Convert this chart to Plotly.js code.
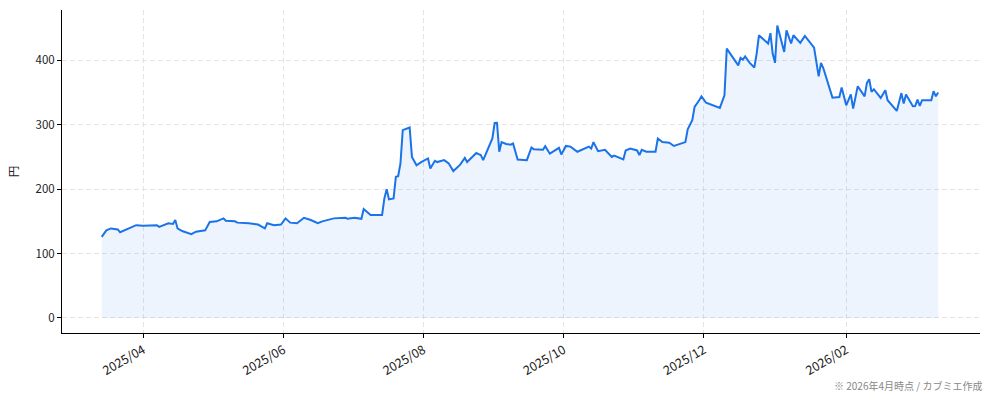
<!DOCTYPE html>
<html>
<head>
<meta charset="utf-8">
<script src="https://cdn.plot.ly/plotly-3.0.1.min.js"></script>
<style>
  html, body { margin: 0; padding: 0; background: #fff; }
  #chart { width: 994px; height: 401px; }
</style>
</head>
<body>
<div id="chart"></div>
<script>
// daily close (円)
const dates = [
  '2025-03-14', '2025-03-16', '2025-03-18', '2025-03-21', '2025-03-22', '2025-03-24', '2025-03-26', '2025-03-29',
  '2025-04-01', '2025-04-07', '2025-04-08', '2025-04-12', '2025-04-14', '2025-04-15', '2025-04-16', '2025-04-18',
  '2025-04-22', '2025-04-24', '2025-04-28', '2025-04-30',
  '2025-05-03', '2025-05-06', '2025-05-07', '2025-05-11', '2025-05-12', '2025-05-17', '2025-05-21', '2025-05-24',
  '2025-05-25', '2025-05-28', '2025-05-31',
  '2025-06-02', '2025-06-04', '2025-06-07', '2025-06-10', '2025-06-13', '2025-06-16', '2025-06-18', '2025-06-23',
  '2025-06-28', '2025-06-29',
  '2025-07-02', '2025-07-05', '2025-07-06', '2025-07-09', '2025-07-14', '2025-07-15', '2025-07-16', '2025-07-17',
  '2025-07-19', '2025-07-20', '2025-07-21', '2025-07-22', '2025-07-23', '2025-07-26', '2025-07-27', '2025-07-29',
  '2025-07-31',
  '2025-08-03', '2025-08-04', '2025-08-06', '2025-08-07', '2025-08-10', '2025-08-12', '2025-08-14', '2025-08-17',
  '2025-08-19', '2025-08-20', '2025-08-24', '2025-08-26', '2025-08-27', '2025-08-31',
  '2025-09-01', '2025-09-02', '2025-09-03', '2025-09-04', '2025-09-06', '2025-09-08', '2025-09-09', '2025-09-11',
  '2025-09-15', '2025-09-17', '2025-09-18', '2025-09-21', '2025-09-22', '2025-09-23', '2025-09-25', '2025-09-29',
  '2025-09-30',
  '2025-10-02', '2025-10-04', '2025-10-07', '2025-10-10', '2025-10-12', '2025-10-13', '2025-10-14', '2025-10-16',
  '2025-10-19', '2025-10-22', '2025-10-23', '2025-10-27', '2025-10-28', '2025-10-30',
  '2025-11-02', '2025-11-03', '2025-11-04', '2025-11-06', '2025-11-10', '2025-11-11', '2025-11-13', '2025-11-16',
  '2025-11-18', '2025-11-23', '2025-11-24', '2025-11-26', '2025-11-27', '2025-11-29', '2025-11-30',
  '2025-12-02', '2025-12-08', '2025-12-10', '2025-12-11', '2025-12-16', '2025-12-17', '2025-12-18', '2025-12-19',
  '2025-12-21', '2025-12-23', '2025-12-24', '2025-12-25', '2025-12-29', '2025-12-30', '2025-12-31',
  '2026-01-01', '2026-01-02', '2026-01-05', '2026-01-06', '2026-01-08', '2026-01-09', '2026-01-12', '2026-01-14',
  '2026-01-18', '2026-01-20', '2026-01-21', '2026-01-22', '2026-01-26', '2026-01-29', '2026-01-30',
  '2026-02-01', '2026-02-03', '2026-02-04', '2026-02-06', '2026-02-09', '2026-02-10', '2026-02-11', '2026-02-12',
  '2026-02-13', '2026-02-16', '2026-02-18', '2026-02-19', '2026-02-23', '2026-02-25', '2026-02-26', '2026-02-27',
  '2026-03-02', '2026-03-03', '2026-03-04', '2026-03-05', '2026-03-06', '2026-03-10', '2026-03-11', '2026-03-12',
  '2026-03-13'
]

const prices = [
  126, 136, 139, 137.5, 133, 136, 139, 144,
  143, 144, 141.5, 147, 146, 152, 139, 135,
  130, 134, 136, 149,
  150, 154.6, 151, 150, 148, 147, 145, 139,
  147, 144, 145,
  154.6, 148, 147, 155.5, 152, 147, 150, 154.6,
  155.5, 154,
  155.5, 154, 169, 159.7, 160, 185.6, 200, 184,
  185.6, 219, 220, 240, 291.5, 295.6, 250, 237,
  242,
  247.6, 232, 244, 242, 245, 240, 228, 238,
  248.5, 242, 256, 252.7, 245, 278.6,
  302.8, 303, 258, 273, 270, 269, 271, 246,
  245, 264.6, 262, 262, 261, 266.7, 255, 264,
  253.7,
  267, 266, 258, 263, 266, 263, 273, 259,
  261, 250, 252, 246, 260, 263,
  260, 252.7, 261, 258, 258, 278.6, 273, 272,
  267, 273, 293, 307, 327.6, 338, 344,
  334, 326, 345.7, 418, 392, 403.6, 401, 406,
  396, 388.7, 410, 438.8, 426, 442, 410,
  396, 454, 413, 446.5, 426, 438.8, 427, 437.7,
  419.7, 375, 396, 388, 342, 343, 357.7,
  330, 347, 325, 359.7, 344, 364.8, 370.5, 351,
  355, 341.6, 353.5, 338, 321.4, 349, 333, 347,
  328.7, 329, 339, 329, 338, 338, 352, 344,
  350
]

const yTicks = [0, 100, 200, 300, 400]
const yTitle = '円'
const footnote = '※ 2026年4月時点 / カブミエ作成'

const lineColor = '#1a73e8'
const gridColor = '#e4e4e4'
const font = '"Noto Sans CJK JP", "Noto Sans", sans-serif'

Plotly.newPlot('chart', [
  {
    type: 'scatter',
    mode: 'lines',
    x: dates,
    y: prices,
    fill: 'tozeroy',
    fillcolor: 'rgba(26, 115, 232, 0.08)',
    line: { color: lineColor, width: 2 },
    hoverinfo: 'x+y'
  }
], {
  width: 994,
  height: 401,
  margin: { l: 62, r: 14, t: 10, b: 68 },
  paper_bgcolor: '#fff',
  plot_bgcolor: '#fff',
  showlegend: false,
  font: { family: font, size: 11, color: '#222' },
  xaxis: {
    type: 'date',
    range: ['2025-02-24 17:00', '2026-03-31 05:00'],
    tick0: '2025-04-01',
    dtick: 'M2',
    tickformat: '%Y/%m',
    tickangle: -30,
    ticks: 'outside',
    ticklen: 4,
    tickcolor: '#000',
    showline: true,
    linecolor: '#000',
    linewidth: 1,
    showgrid: true,
    gridcolor: gridColor,
    griddash: '5px,3px',
    gridwidth: 1,
    zeroline: false,
    tickfont: { family: font, size: 12.5, color: '#222' }
  },
  yaxis: {
    range: [-23.3, 478],
    tickvals: yTicks,
    ticks: 'outside',
    ticklen: 4,
    tickcolor: '#000',
    showline: true,
    linecolor: '#000',
    linewidth: 1,
    showgrid: true,
    gridcolor: gridColor,
    griddash: '5px,3px',
    gridwidth: 1,
    zeroline: false,
    title: { text: yTitle, font: { family: font, size: 11.5, color: '#222' }, standoff: 14 },
    tickfont: { family: font, size: 11.5, color: '#222' }
  },
  annotations: [
    {
      text: footnote,
      xref: 'paper',
      yref: 'paper',
      x: 1.004,
      y: -0.161,
      xanchor: 'right',
      yanchor: 'middle',
      showarrow: false,
      font: { family: font, size: 10, color: '#888' }
    }
  ]
}, { displayModeBar: false, staticPlot: true })
</script>
</body>
</html>
